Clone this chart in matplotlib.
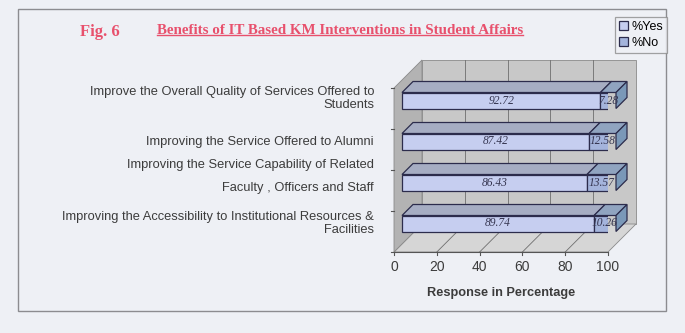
import matplotlib
matplotlib.use("Agg")
import matplotlib.pyplot as plt
import numpy as np
from matplotlib.patches import Polygon, Rectangle
from matplotlib.lines import Line2D

# Data
categories = [
    "Improve the Overall Quality of Services Offered to\nStudents",
    "Improving the Service Offered to Alumni",
    "Improving the Service Capability of Related\nFaculty , Officers and Staff",
    "Improving the Accessibility to Institutional Resources &\nFacilities",
]
yes_pct = [92.72, 87.42, 86.43, 89.74]
no_pct = [7.28, 12.58, 13.57, 10.26]
xticks = [0, 20, 40, 60, 80, 100]

# label layout (line spacing, vertical nudge in px)
label_spacing = [1.15, 1.15, 2.25, 1.15]
label_nudge = [2, 0, 6, 0]

W, H = 685, 333
fig = plt.figure(figsize=(W / 100, H / 100), dpi=100)
bg = "#eef0f5"
fig.patch.set_facecolor(bg)

# outer frame
fig.add_artist(Rectangle((18 / W, 1 - 311 / H), (666 - 18) / W, (311 - 9) / H,
                         transform=fig.transFigure, fill=False,
                         edgecolor="#8c8c90", lw=1.0))

# front plane of the 3D box in pixels
AX_L, AX_R, AX_T, AX_B = 394, 608, 88, 252
ax = fig.add_axes([AX_L / W, 1 - AX_B / H, (AX_R - AX_L) / W, (AX_B - AX_T) / H])
ax.set_xlim(0, 100)
ax.set_ylim(-0.5, len(categories) - 0.5)
ax.axis("off")

sx = 100 / (AX_R - AX_L)          # data units per pixel
sy = len(categories) / (AX_B - AX_T)

wall = 28                         # depth of the box (px)
bar_front = 8                     # where the bars start in depth (px)
bar_depth = 11
bar_h = 16

wx, wy = wall * sx, wall * sy
y0, y1 = -0.5, len(categories) - 0.5

# walls
ax.add_patch(Polygon([(wx, y0 + wy), (100 + wx, y0 + wy), (100 + wx, y1 + wy), (wx, y1 + wy)],
                     closed=True, facecolor="#c8c8c8", edgecolor="#8a8a8a", lw=0.6,
                     clip_on=False, zorder=1))
ax.add_patch(Polygon([(0, y0), (100, y0), (100 + wx, y0 + wy), (wx, y0 + wy)],
                     closed=True, facecolor="#d6d6d6", edgecolor="#8a8a8a", lw=0.6,
                     clip_on=False, zorder=1))
ax.add_patch(Polygon([(0, y0), (0, y1), (wx, y1 + wy), (wx, y0 + wy)],
                     closed=True, facecolor="#b3b3b3", edgecolor="#8a8a8a", lw=0.6,
                     clip_on=False, zorder=1))

# grid lines on back wall and floor
for t in xticks[1:-1]:
    ax.plot([t + wx, t + wx], [y0 + wy, y1 + wy], color="#6e6e6e", lw=0.6,
            clip_on=False, zorder=2)
    ax.plot([t, t + wx], [y0, y0 + wy], color="#6e6e6e", lw=0.6,
            clip_on=False, zorder=2)

# front axis lines and ticks
ax.plot([0, 100], [y0, y0], color="#555555", lw=0.8, clip_on=False, zorder=3)
for t in xticks:
    ax.plot([t, t], [y0, y0 - 3 * sy], color="#555555", lw=0.8, clip_on=False, zorder=3)
    ax.text(t, y0 - 15 * sy, str(t), ha="center", va="center", fontsize=10,
            color="#3c3c3c", family="Liberation Sans")
for k in range(len(categories) + 1):
    yb = y0 + k
    ax.plot([0, -3 * sx], [yb, yb], color="#555555", lw=0.8, clip_on=False, zorder=3)

ax.text(50, y0 - 41 * sy, "Response in Percentage", ha="center", va="center",
        fontsize=9.2, fontweight="bold", color="#3c3c3c", family="Liberation Sans")

# bars (top category first)
ypos = np.arange(len(categories))[::-1]
fx, fy = bar_front * sx, bar_front * sy
dx, dy = bar_depth * sx, bar_depth * sy
hh = bar_h * sy

c_yes = dict(front="#c6cef0", top="#a6adc3")
c_no = dict(front="#a4b4dc", top="#90a4c0", side="#7a98b8")
edge = "#2c2c4c"

bars_yes = ax.barh(ypos + fy, yes_pct, left=fx, height=hh, color=c_yes["front"],
                   edgecolor=edge, lw=0.9, zorder=5, label="%Yes")
bars_no = ax.barh(ypos + fy, no_pct, left=np.array(yes_pct) + fx, height=hh,
                  color=c_no["front"], edgecolor=edge, lw=0.9, zorder=5, label="%No")

for yc, yv, nv in zip(ypos + fy, yes_pct, no_pct):
    top = yc + hh / 2
    for l, r, col in [(fx, fx + yv, c_yes["top"]), (fx + yv, fx + yv + nv, c_no["top"])]:
        ax.add_patch(Polygon([(l, top), (r, top), (r + dx, top + dy), (l + dx, top + dy)],
                             closed=True, facecolor=col, edgecolor=edge, lw=0.9,
                             clip_on=False, zorder=4))
    r = fx + yv + nv
    ax.add_patch(Polygon([(r, top - hh), (r, top), (r + dx, top + dy), (r + dx, top - hh + dy)],
                         closed=True, facecolor=c_no["side"], edgecolor=edge, lw=0.9,
                         clip_on=False, zorder=4))
    ax.text(fx + yv / 2, yc, f"{yv:.2f}", ha="center", va="center", fontsize=8.3,
            style="italic", color="#34344f", family="Liberation Serif", zorder=6)
    ax.text(fx + yv + nv / 2, yc, f"{nv:.2f}", ha="center", va="center", fontsize=8.3,
            style="italic", color="#34344f", family="Liberation Serif", zorder=6)

# category labels
for yc, lab, ls, nd in zip(ypos + fy, categories, label_spacing, label_nudge):
    ax.text(-20 * sx, yc + nd * sy, lab, ha="right", va="center", fontsize=9.3,
            color="#3c3c3c", family="Liberation Sans", linespacing=ls)

# legend
leg = fig.legend(handles=[bars_yes, bars_no], labels=["%Yes", "%No"],
                 loc="upper right", bbox_to_anchor=(667 / W, 1 - 17 / H),
                 frameon=True, fancybox=False, edgecolor="#8c8c8c",
                 facecolor=bg, handlelength=0.7, handleheight=0.7,
                 handletextpad=0.3, borderpad=0.3, labelspacing=0.35,
                 borderaxespad=0,
                 prop={"family": "Liberation Sans", "size": 9})
leg.get_frame().set_linewidth(0.9)

# titles
red = "#e8506c"
fig.text(80 / W, 1 - 32 / H, "Fig. 6", ha="left", va="center", fontsize=12,
         fontweight="bold", color=red, family="Liberation Serif")
title = fig.text(157 / W, 1 - 30 / H, "Benefits of IT Based KM Interventions in Student Affairs",
                 ha="left", va="center", fontsize=10.8, fontweight="bold", color=red,
                 family="Liberation Serif")
fig.canvas.draw()
bb = title.get_window_extent().transformed(fig.transFigure.inverted())
fig.add_artist(Line2D([bb.x0, bb.x1], [bb.y0 + 0.004, bb.y0 + 0.004], color=red, lw=1.0,
                      transform=fig.transFigure))

fig.savefig("out.png", dpi=100, facecolor=bg)
